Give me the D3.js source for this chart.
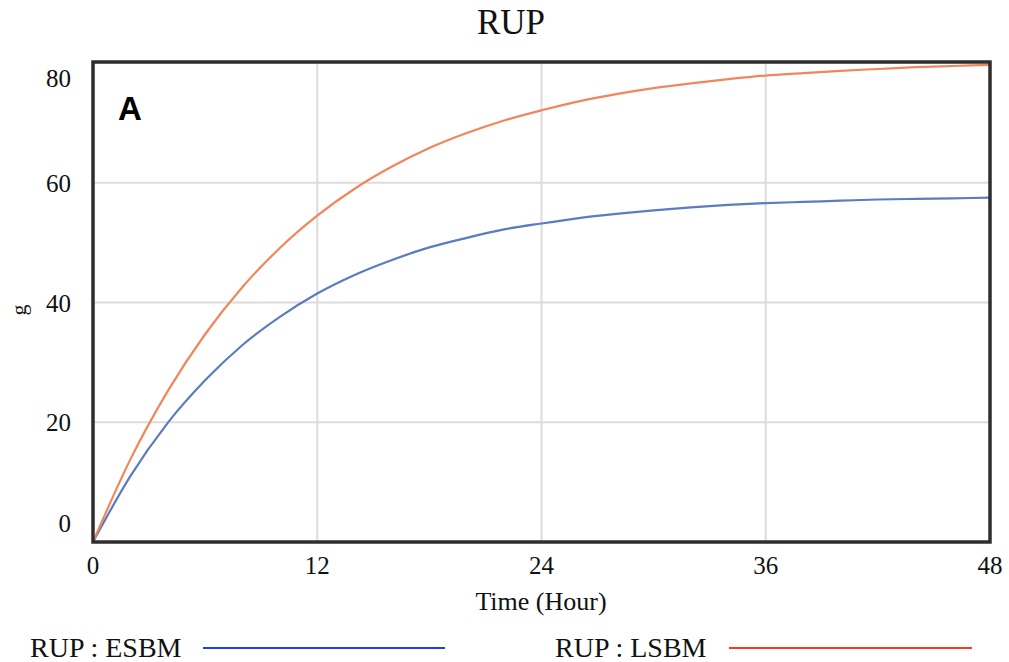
<!DOCTYPE html>
<html><head><meta charset="utf-8">
<script src="https://cdn.jsdelivr.net/npm/d3@7"></script>
<style>
body{margin:0;background:#fff;}
svg{display:block;}
</style></head>
<body>
<svg id="chart" width="1009" height="662"></svg>
<script>
const hours = [0,2,4,6,8,10,12,14,16,18,20,22,24,26,28,30,32,34,36,38,40,42,44,46,48];
const esbm  = [0,11.0,19.9,27.0,32.9,37.6,41.5,44.6,47.1,49.2,50.8,52.2,53.2,54.1,54.8,55.4,55.9,56.3,56.6,56.8,57.0,57.2,57.3,57.4,57.5];
const lsbm  = [0,13.8,25.2,34.7,42.6,49.1,54.5,59.0,62.7,65.8,68.3,70.4,72.1,73.6,74.8,75.8,76.6,77.3,77.9,78.3,78.7,79.0,79.3,79.5,79.7];
const xTicks = [0,12,24,36,48];
const yTicks = [0,20,40,60,80];
const seriesNames = ["RUP : ESBM","RUP : LSBM"];
const lineColors = ["#5b7bc2","#f0875c"];
const legendColors = ["#1f3ff0","#f23c1e"];

const svg = d3.select("#chart");
const L = 93, R = 990, T = 62, B = 542;
const x = d3.scaleLinear().domain([0,48]).range([L,R]);
const y = d3.scaleLinear().domain([0,80]).range([B,63]);
const serif = "'Liberation Serif','Times New Roman',serif";

// gridlines
svg.append("g").selectAll("line.v").data(xTicks.filter(d=>d>0&&d<48)).join("line")
  .attr("x1",d=>x(d)).attr("x2",d=>x(d)).attr("y1",T).attr("y2",B)
  .attr("stroke","#dcdcdc").attr("stroke-width",2);
svg.append("g").selectAll("line.h").data(yTicks.filter(d=>d>0&&d<80)).join("line")
  .attr("x1",L).attr("x2",R).attr("y1",d=>y(d)).attr("y2",d=>y(d))
  .attr("stroke","#dcdcdc").attr("stroke-width",2);

// lines
const line = vals => d3.line().x((d,i)=>x(hours[i])).y(d=>y(d)).curve(d3.curveMonotoneX)(vals);
[esbm, lsbm].forEach((vals,i)=>{
  svg.append("path").attr("d",line(vals)).attr("fill","none")
    .attr("stroke",lineColors[i]).attr("stroke-width",2.2);
});

// frame
svg.append("rect").attr("x",L).attr("y",T).attr("width",R-L).attr("height",B-T)
  .attr("fill","none").attr("stroke","#2e2e2e").attr("stroke-width",3.5);

// y tick labels (clamped inside like the source)
svg.append("g").selectAll("text").data(yTicks).join("text")
  .attr("x",71).attr("y",d=>Math.min(Math.max(y(d),T+16),B-19)+9)
  .attr("text-anchor","end").attr("font-family",serif).attr("font-size",25)
  .attr("fill","#111").text(d=>d);

// x tick labels
svg.append("g").selectAll("text").data(xTicks).join("text")
  .attr("x",d=>x(d)).attr("y",574).attr("text-anchor","middle")
  .attr("font-family",serif).attr("font-size",25).attr("fill","#111").text(d=>d);

// titles
svg.append("text").attr("x",511).attr("y",34).attr("text-anchor","middle")
  .attr("font-family",serif).attr("font-size",35).attr("fill","#111").text("RUP");
svg.append("text").attr("x",541).attr("y",610).attr("text-anchor","middle")
  .attr("font-family",serif).attr("font-size",26).attr("fill","#111").text("Time (Hour)");
svg.append("text").attr("transform","translate(26,310) rotate(-90)").attr("text-anchor","middle")
  .attr("font-family",serif).attr("font-size",22).attr("fill","#111").text("g");
svg.append("text").attr("x",118).attr("y",120)
  .attr("font-family","'Liberation Sans',Arial,sans-serif").attr("font-weight","bold")
  .attr("font-size",33).attr("fill","#000").text("A");

// legend
const legX = [30,555], legLine = [[203,445],[729,972]];
seriesNames.forEach((n,i)=>{
  svg.append("text").attr("x",legX[i]).attr("y",657)
    .attr("font-family",serif).attr("font-size",28).attr("fill","#111").text(n);
  svg.append("line").attr("x1",legLine[i][0]).attr("x2",legLine[i][1])
    .attr("y1",648).attr("y2",648).attr("stroke",legendColors[i]).attr("stroke-width",2);
});
</script>
</body></html>
